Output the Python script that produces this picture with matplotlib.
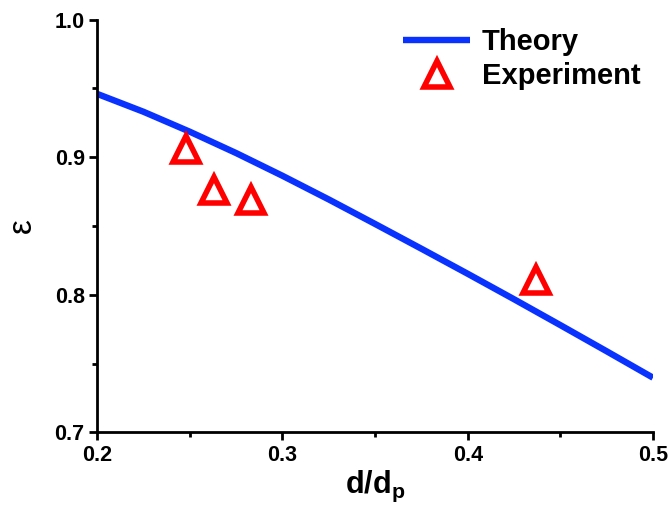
import numpy as np
import matplotlib.pyplot as plt

# theory curve
theory_x = [0.200, 0.225, 0.250, 0.275, 0.300, 0.325, 0.350, 0.375, 0.400, 0.425, 0.450, 0.475, 0.500]
theory_y = [0.9460, 0.9330, 0.9185, 0.9030, 0.8865, 0.8693, 0.8515, 0.8335, 0.8153, 0.7968, 0.7780, 0.7590, 0.7398]

# experimental points
exp_x = [0.248, 0.263, 0.283, 0.437]
exp_y = [0.906, 0.876, 0.869, 0.811]

plt.rcParams["font.family"] = ["Liberation Sans", "DejaVu Sans"]
plt.rcParams["font.weight"] = "bold"
plt.rcParams["mathtext.fontset"] = "custom"
plt.rcParams["mathtext.rm"] = "Liberation Sans:bold"
plt.rcParams["mathtext.it"] = "Liberation Sans:bold"
plt.rcParams["mathtext.bf"] = "Liberation Sans:bold"

fig = plt.figure(figsize=(6.7, 5.14), dpi=100)
ax = fig.add_axes([0.145, 0.1586, 0.8296, 0.8034])

ax.plot(theory_x, theory_y, color="#0a32ff", lw=4.6, solid_capstyle="butt", label="Theory")
ax.plot(exp_x, exp_y, ls="none", marker="^", ms=19, mfc="white", mec="#ff0000", mew=4,
        label="Experiment")

ax.set_xlim(0.2, 0.5)
ax.set_ylim(0.7, 1.0)
ax.set_xticks([0.2, 0.3, 0.4, 0.5])
ax.set_xticks([0.25, 0.35, 0.45], minor=True)
ax.set_yticks([0.7, 0.8, 0.9, 1.0])
ax.set_yticks([0.75, 0.85, 0.95], minor=True)
ax.set_xticklabels(["0.2", "0.3", "0.4", "0.5"])
ax.set_yticklabels(["0.7", "0.8", "0.9", "1.0"])

for s in ["top", "right"]:
    ax.spines[s].set_visible(False)
for s in ["left", "bottom"]:
    ax.spines[s].set_linewidth(2)

ax.tick_params(which="major", direction="out", length=6, width=2, labelsize=15.5, pad=3)
ax.tick_params(which="minor", direction="out", length=3.5, width=2)

ax.set_xlabel(r"$\mathrm{d/d_p}$", fontsize=22, labelpad=2)
ax.set_ylabel("ε", fontsize=24, labelpad=12)

leg = ax.legend(loc="upper left", bbox_to_anchor=(0.602, 0.945), bbox_transform=fig.transFigure,
                frameon=False, fontsize=21, handlelength=2.3, handletextpad=0.4, labelspacing=0.2,
                borderaxespad=0, borderpad=0)

fig.savefig("out.png", dpi=100)
